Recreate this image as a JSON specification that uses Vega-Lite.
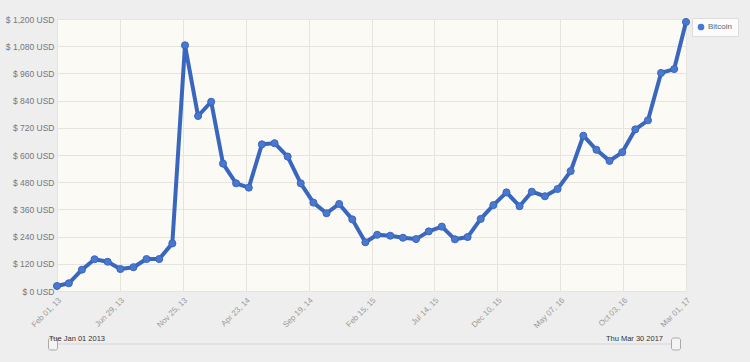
{
  "$schema": "https://vega.github.io/schema/vega-lite/v6.json",
  "autosize": "none",
  "padding": {"left": 57, "top": 19, "right": 64, "bottom": 71},
  "background": "#eeeeee",
  "width": 629,
  "height": 272,
  "config": {
    "font": "Liberation Sans",
    "view": {"fill": "#fbfaf4", "stroke": null},
    "axis": {"gridColor": "#e6e4de", "gridWidth": 1, "domain": false, "ticks": false, "labelFont": "Liberation Sans"},
    "legend": {"fillColor": "#fcfcfc", "strokeColor": "#dcdcdc", "padding": 5, "symbolSize": 45, "labelFontSize": 8, "labelColor": "#666666", "labelFont": "Liberation Sans", "labelOffset": 3, "symbolStrokeWidth": 0}
  },
  "resolve": {"scale": {"x": "independent", "y": "independent"}, "axis": {"x": "independent", "y": "independent"}},
  "layer": [
    {
      "data": {"values": [
        {"month": "2013-02-01", "price": 22, "series": "Bitcoin"},
        {"month": "2013-03-01", "price": 34, "series": "Bitcoin"},
        {"month": "2013-04-01", "price": 94, "series": "Bitcoin"},
        {"month": "2013-05-01", "price": 140, "series": "Bitcoin"},
        {"month": "2013-06-01", "price": 129, "series": "Bitcoin"},
        {"month": "2013-07-01", "price": 97, "series": "Bitcoin"},
        {"month": "2013-08-01", "price": 105, "series": "Bitcoin"},
        {"month": "2013-09-01", "price": 141, "series": "Bitcoin"},
        {"month": "2013-10-01", "price": 141, "series": "Bitcoin"},
        {"month": "2013-11-01", "price": 210, "series": "Bitcoin"},
        {"month": "2013-12-01", "price": 1084, "series": "Bitcoin"},
        {"month": "2014-01-01", "price": 772, "series": "Bitcoin"},
        {"month": "2014-02-01", "price": 835, "series": "Bitcoin"},
        {"month": "2014-03-01", "price": 562, "series": "Bitcoin"},
        {"month": "2014-04-01", "price": 475, "series": "Bitcoin"},
        {"month": "2014-05-01", "price": 456, "series": "Bitcoin"},
        {"month": "2014-06-01", "price": 647, "series": "Bitcoin"},
        {"month": "2014-07-01", "price": 652, "series": "Bitcoin"},
        {"month": "2014-08-01", "price": 593, "series": "Bitcoin"},
        {"month": "2014-09-01", "price": 475, "series": "Bitcoin"},
        {"month": "2014-10-01", "price": 390, "series": "Bitcoin"},
        {"month": "2014-11-01", "price": 343, "series": "Bitcoin"},
        {"month": "2014-12-01", "price": 384, "series": "Bitcoin"},
        {"month": "2015-01-01", "price": 316, "series": "Bitcoin"},
        {"month": "2015-02-01", "price": 215, "series": "Bitcoin"},
        {"month": "2015-03-01", "price": 248, "series": "Bitcoin"},
        {"month": "2015-04-01", "price": 244, "series": "Bitcoin"},
        {"month": "2015-05-01", "price": 235, "series": "Bitcoin"},
        {"month": "2015-06-01", "price": 229, "series": "Bitcoin"},
        {"month": "2015-07-01", "price": 263, "series": "Bitcoin"},
        {"month": "2015-08-01", "price": 284, "series": "Bitcoin"},
        {"month": "2015-09-01", "price": 228, "series": "Bitcoin"},
        {"month": "2015-10-01", "price": 238, "series": "Bitcoin"},
        {"month": "2015-11-01", "price": 318, "series": "Bitcoin"},
        {"month": "2015-12-01", "price": 379, "series": "Bitcoin"},
        {"month": "2016-01-01", "price": 435, "series": "Bitcoin"},
        {"month": "2016-02-01", "price": 374, "series": "Bitcoin"},
        {"month": "2016-03-01", "price": 438, "series": "Bitcoin"},
        {"month": "2016-04-01", "price": 418, "series": "Bitcoin"},
        {"month": "2016-05-01", "price": 450, "series": "Bitcoin"},
        {"month": "2016-06-01", "price": 529, "series": "Bitcoin"},
        {"month": "2016-07-01", "price": 685, "series": "Bitcoin"},
        {"month": "2016-08-01", "price": 623, "series": "Bitcoin"},
        {"month": "2016-09-01", "price": 574, "series": "Bitcoin"},
        {"month": "2016-10-01", "price": 612, "series": "Bitcoin"},
        {"month": "2016-11-01", "price": 713, "series": "Bitcoin"},
        {"month": "2016-12-01", "price": 753, "series": "Bitcoin"},
        {"month": "2017-01-01", "price": 962, "series": "Bitcoin"},
        {"month": "2017-02-01", "price": 979, "series": "Bitcoin"},
        {"month": "2017-03-01", "price": 1187, "series": "Bitcoin"}
      ]},
      "encoding": {
        "x": {
          "field": "month", "type": "temporal", "title": null,
          "scale": {"type": "utc", "domain": [1359676800000, 1488326400000], "nice": false},
          "axis": {
            "values": [1359676800000, 1372541760000, 1385406720000, 1398271680000, 1411136640000, 1424001600000, 1436866560000, 1449731520000, 1462596480000, 1475461440000, 1488326400000],
            "labelExpr": "utcFormat(datum.value, '%b %d, %y')",
            "labelAngle": -45, "labelFontSize": 8, "labelColor": "#9a9a9a", "labelPadding": 5, "labelOverlap": false, "labelBound": false, "labelFlush": false
          }
        },
        "y": {
          "field": "price", "type": "quantitative", "title": null,
          "scale": {"domain": [0, 1200], "nice": false},
          "axis": {
            "values": [0, 120, 240, 360, 480, 600, 720, 840, 960, 1080, 1200],
            "labelExpr": "'$ ' + format(datum.value, ',') + ' USD'",
            "labelFontSize": 8.5, "labelColor": "#777777", "labelPadding": 3, "labelOverlap": false
          }
        }
      },
      "layer": [
        {"mark": {"type": "line", "color": "#3a67be", "strokeWidth": 4, "strokeJoin": "round"}},
        {
          "mark": {"type": "point", "filled": true, "size": 50, "stroke": "#3a67be", "strokeWidth": 1, "opacity": 1},
          "encoding": {
            "color": {
              "field": "series", "type": "nominal",
              "scale": {"range": ["#4a78cf"]},
              "legend": {"orient": "none", "legendX": 635, "legendY": -1, "title": null, "symbolType": "circle"}
            }
          }
        }
      ]
    },
    {
      "data": {"values": [
        {"date": "2013-01-01", "label": "Tue Jan 01 2013", "end": "start"},
        {"date": "2017-03-30", "label": "Thu Mar 30 2017", "end": "end"}
      ]},
      "encoding": {
        "x": {
          "field": "date", "type": "temporal", "axis": null,
          "scale": {"type": "utc", "domain": [1357857684109, 1492980211235], "nice": false}
        }
      },
      "layer": [
        {
          "mark": {"type": "rule", "color": "#d6d6d6", "strokeWidth": 1},
          "encoding": {
            "x": {"aggregate": "min", "field": "date", "type": "temporal"},
            "x2": {"aggregate": "max", "field": "date"},
            "y": {"datum": "track", "type": "nominal", "axis": null, "scale": {"type": "point", "domain": ["label", "track"], "range": [317.5, 327.5]}}
          }
        },
        {
          "mark": {"type": "tick", "size": 12, "thickness": 9, "color": "#f4f4f4", "stroke": "#a9a9a9", "strokeWidth": 1, "cornerRadius": 2, "opacity": 1},
          "encoding": {
            "y": {"datum": "track", "type": "nominal"}
          }
        },
        {
          "transform": [{"filter": "datum.end === 'start'"}],
          "mark": {"type": "text", "align": "left", "dx": -4, "fontSize": 7.5, "color": "#333333", "baseline": "middle"},
          "encoding": {
            "y": {"datum": "label", "type": "nominal"},
            "text": {"field": "label"}
          }
        },
        {
          "transform": [{"filter": "datum.end === 'end'"}],
          "mark": {"type": "text", "align": "right", "dx": -13, "fontSize": 7.5, "color": "#333333", "baseline": "middle"},
          "encoding": {
            "y": {"datum": "label", "type": "nominal"},
            "text": {"field": "label"}
          }
        }
      ]
    }
  ]
}
